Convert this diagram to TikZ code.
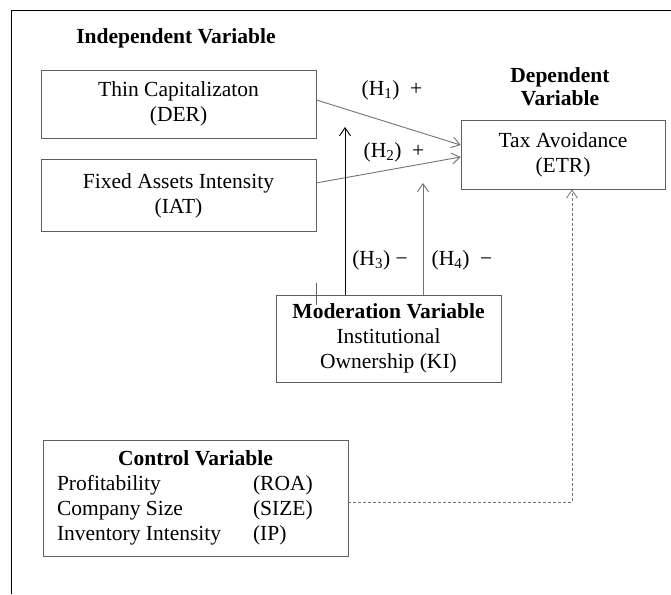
\documentclass[tikz,border=0pt]{standalone}
\usepackage{fontspec}
\setmainfont{Liberation Serif}
\usetikzlibrary{arrows.meta,positioning}
\tikzset{every node/.append style={align=center}}
\definecolor{boxgray}{RGB}{95,95,95}
\definecolor{linkgray}{RGB}{115,115,115}

\begin{document}
\begin{tikzpicture}[
    x=1pt, y=-1pt,
    font=\fontsize{21.5}{25}\selectfont,
    varbox/.style={draw=boxgray, line width=0.9pt, inner sep=2pt},
    heading/.style={font=\fontsize{21.5}{23}\selectfont\bfseries, inner sep=0pt},
    hyp/.style={inner sep=0pt},
    link/.style={-{Straight Barb[length=8pt,width=11pt]}, line width=0.9pt, draw=linkgray},
    ctrllink/.style={link, line width=0.8pt, dash pattern=on 3pt off 2pt}
]
    \useasboundingbox (0,0) rectangle (671,594);
    % Frame
    \draw[line width=1pt] (11,594) -- (11,11) -- (671,11);

    % Main variables
    \node[heading] (indlabel) at (176,38) {Independent Variable};
    \node[varbox, minimum width=275pt, minimum height=68pt] (der) at (178.5,104) {Thin Capitalizaton\\(DER)};
    \node[varbox, minimum width=275pt, minimum height=72pt, below=21pt of der] (iat) {Fixed Assets Intensity\\(IAT)};
    \node[varbox, minimum width=204pt, minimum height=69pt] (etr) at (563,154.5) {Tax Avoidance\\(ETR)};
    \node[heading] (deplabel) at (560,87) {Dependent\\Variable};
    \node[varbox, minimum width=225pt, minimum height=87pt] (ki) at (388.5,338.5) {\textbf{Moderation Variable}\\Institutional\\Ownership (KI)};
    \node[varbox, minimum width=305pt, minimum height=116pt] (ctrl) at (195.5,498) {%
        \begin{tabular}{@{}p{196pt}@{}p{81pt}@{}}
        \multicolumn{2}{c}{\textbf{Control Variable}}\\
        Profitability & (ROA)\\
        Company Size & (SIZE)\\
        Inventory Intensity & (IP)
        \end{tabular}};

    % Hypotheses
    \node[hyp] (h1) at (392,90) {(H\textsubscript{1})~~+};
    \node[hyp] (h2) at (394,152) {(H\textsubscript{2})~~+};
    \node[hyp] (h3) at (380,260) {(H\textsubscript{3})~\char"2212};
    \node[hyp] (h4) at (462,260) {(H\textsubscript{4})~~\char"2212};

    % Links
    \coordinate (h3tip) at (345,127);
    \coordinate (h4tip) at (423,183);
    \draw[link] ([yshift=4pt]der.east) -- ([yshift=9.5pt]etr.west);
    \draw[link] ([yshift=13pt]iat.east) -- ([yshift=-2.5pt]etr.west);
    \draw[link, draw=black] (h3tip |- ki.north) -- (h3tip);
    \draw[link] (h4tip |- ki.north) -- (h4tip);
    \draw[line width=0.9pt, draw=boxgray] ([xshift=41pt,yshift=12pt]ki.north west) -- ([xshift=41pt,yshift=-10pt]ki.north west);
    \draw[ctrllink] ([yshift=-4pt]ctrl.east) -| ([xshift=9pt]etr.south);
\end{tikzpicture}
\end{document}
